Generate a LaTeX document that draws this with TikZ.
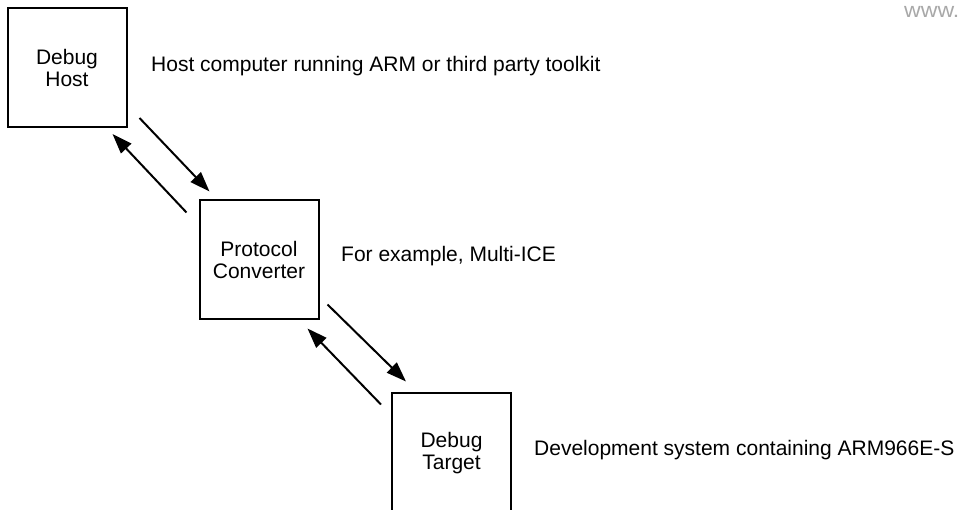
\documentclass[tikz,border=0pt]{standalone}
\usepackage{fontspec}
\setmainfont{Liberation Sans}
\usetikzlibrary{arrows.meta,positioning,calc}
\definecolor{ink}{HTML}{000000}
\definecolor{mark}{HTML}{A8A8A8}
\tikzset{
  flow/.style={-{Triangle[length=20pt,width=14pt]},line width=2pt,ink},
  box/.style={draw=ink,line width=2pt,minimum size=119pt,inner sep=0pt,
    align=center,font=\fontsize{21}{22}\selectfont},
  labeltext/.style={font=\fontsize{21}{22}\selectfont,text=ink,inner sep=0pt}
}

\begin{document}
\begin{tikzpicture}[x=1pt,y=-1pt]
\useasboundingbox (0,0) rectangle (961,510);
\node[box] (host) at (67,67.5) {Debug\\Host};
\node[box] (conv) at (259,260) {Protocol\\Converter};
\node[box] (tgt) at (451.5,453) {Debug\\Target};
\node[labeltext,anchor=base west] (hosttxt) at (151,72)
  {Host computer running ARM or third party toolkit};
\node[labeltext,anchor=base west] (convtxt) at (341,262) {For example, Multi-ICE};
\node[labeltext,anchor=base west] (tgttxt) at (534,455)
  {Development system containing ARM966E-S};
\node[labeltext,text=mark,anchor=base west,xscale=1.1] (www) at (904,18) {www.};
\draw[flow] ([shift={(12,-10)}]host.south east)--([shift={(11,-8)}]conv.north west);
\draw[flow] ([shift={(-12,13)}]conv.north west)--([shift={(-15,6)}]host.south east);
\draw[flow] ([shift={(8,-16)}]conv.south east)--([shift={(15,-11)}]tgt.north west);
\draw[flow] ([shift={(-10,12)}]tgt.north west)--([shift={(-12,8)}]conv.south east);
\end{tikzpicture}
\end{document}
